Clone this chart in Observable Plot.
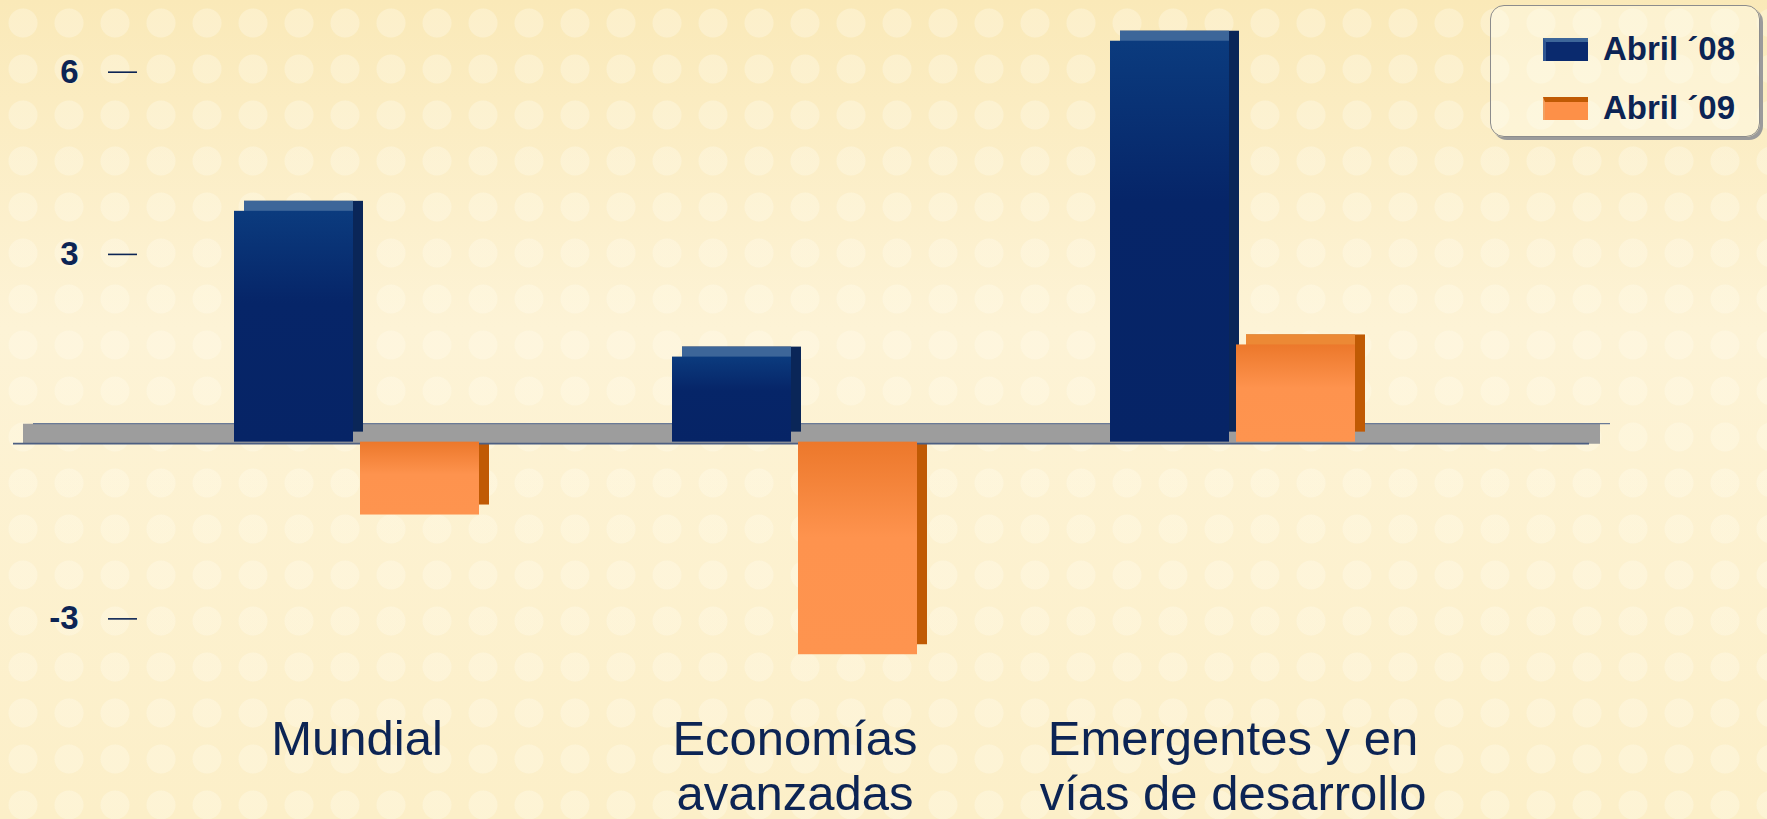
<!DOCTYPE html>
<html>
<head>
<meta charset="utf-8">
<script src="https://cdn.jsdelivr.net/npm/d3@7"></script>
<script src="https://cdn.jsdelivr.net/npm/@observablehq/plot@0.6"></script>
<style>
  html, body { margin: 0; padding: 0; }
  body {
    width: 1767px; height: 819px; overflow: hidden;
    background-color: #fcefc8;
    background-image:
      radial-gradient(circle, rgba(255,251,236,0.35) 0 14px, transparent 15px),
      linear-gradient(180deg, #fae9b8 0%, #fdf3d6 40%, #fcefc8 100%);
    background-size: 46px 46px, 100% 100%;
    font-family: "Liberation Sans", Arial, sans-serif;
  }
  #wrap { position: relative; width: 1767px; height: 819px; }
  #legend {
    position: absolute; left: 1490px; top: 5px; width: 270px; height: 132px;
    box-sizing: border-box;
    border: 1.5px solid #8c8c8c; border-radius: 14px;
    background: rgba(255, 252, 238, 0.45);
    box-shadow: 3px 3px 0 #9b9b9b;
  }
  .item { position: absolute; left: 52px; height: 34px; display: flex; align-items: center; }
  .sw { width: 45px; height: 23px; box-sizing: border-box; margin-right: 15px; }
  .lab { font-weight: bold; font-size: 33px; color: #0c2454; white-space: nowrap; }
</style>
</head>
<body>
<div id="wrap">
  <div id="chart"></div>
  <div id="legend"></div>
</div>
<script>
// ---- data ----
const categories = ["Mundial", "Economías avanzadas", "Emergentes y en vías de desarrollo"];
const categoryLabels = ["Mundial", "Economías\navanzadas", "Emergentes y en\nvías de desarrollo"];
const series = ["Abril ´08", "Abril ´09"];
const abril08 = [3.8, 1.4, 6.6];
const abril09 = [-1.2, -3.5, 1.6];
const yTicks = [6, 3, -3];

// ---- styling ----
const navy = "#0c2454";
const frontFill = { "Abril ´08": "url(#gBlue)", "Abril ´09": "url(#gOrange)" };
const topFill = { "Abril ´08": "#3d6699", "Abril ´09": "#ec8935" };
const sideFill = { "Abril ´08": "#0a2658", "Abril ´09": "#c05a04" };
const halfInset = 126;

const rows = categories.flatMap((c, i) => [
  { cat: c, series: series[0], value: abril08[i] },
  { cat: c, series: series[1], value: abril09[i] }
]);
const pos = rows.filter(d => d.value >= 0);
const neg = rows.filter(d => d.value < 0);

function barsFor(data, fillFn, extra) {
  return series.map(s => Plot.barY(data.filter(d => d.series === s), {
    x: "cat", y: "value",
    insetLeft: s === series[0] ? 0 : halfInset,
    insetRight: s === series[0] ? halfInset : 0,
    fill: fillFn(s),
    ...extra(s)
  }));
}

const defs = () => {
  const ns = "http://www.w3.org/2000/svg";
  const d = document.createElementNS(ns, "defs");
  d.innerHTML = `
    <linearGradient id="gBlue" x1="0" y1="0" x2="0" y2="1">
      <stop offset="0" stop-color="#0b3b7e"/>
      <stop offset="0.4" stop-color="#062568"/>
      <stop offset="1" stop-color="#062466"/>
    </linearGradient>
    <linearGradient id="gOrange" x1="0" y1="0" x2="0" y2="1">
      <stop offset="0" stop-color="#ec782b"/>
      <stop offset="0.45" stop-color="#fe934e"/>
      <stop offset="1" stop-color="#fe944f"/>
    </linearGradient>`;
  return d;
};

const chart = Plot.plot({
  width: 1767,
  height: 819,
  marginLeft: 137,
  marginRight: 167,
  marginTop: 0,
  marginBottom: 67,
  style: { background: "transparent", fontFamily: "'Liberation Sans', Arial, sans-serif", overflow: "visible" },
  x: { type: "band", domain: categories, paddingInner: 0.4396, paddingOuter: 0.3861, align: 0.283, axis: null },
  y: { domain: [-5.2, 7.18], axis: null },
  marks: [
    defs,
    // sides of negative bars (behind the floor)
    ...barsFor(neg, s => sideFill[s], () => ({ dx: 10, dy: -4.5 })),
    // floor
    Plot.ruleY([0], { stroke: "#9d9d9d", strokeWidth: 20, dy: -3, insetLeft: -114, insetRight: 0 }),
    Plot.ruleY([0], { stroke: "#6a7a96", strokeWidth: 1.2, dy: -13, insetLeft: -104, insetRight: -10 }),
    Plot.ruleY([0], { stroke: "#4d5f82", strokeWidth: 1.6, dy: 7, insetLeft: -124, insetRight: 11 }),
    // sides and tops of positive bars
    ...barsFor(pos, s => sideFill[s], () => ({ dx: 10, dy: -4.5 })),
    ...series.map(s => Plot.barY(pos.filter(d => d.series === s), {
      x: "cat", y: "value",
      insetLeft: (s === series[0] ? 0 : halfInset) + 5,
      insetRight: (s === series[0] ? halfInset : 0) + 5,
      fill: topFill[s], dx: 5, dy: -4.5
    })),
    // front faces
    ...barsFor(rows, s => frontFill[s], () => ({ dy: 5.5 })),
    // y axis
    Plot.axisY(yTicks, {
      anchor: "left", tickSize: 29, tickPadding: 30, label: null,
      tickFormat: d => String(d),
      fontSize: 33, fontWeight: "bold", fill: navy, stroke: navy, strokeWidth: 1.6
    }),
    // category labels
    Plot.text(categories, {
      x: d => d, text: (d, i) => categoryLabels[i],
      frameAnchor: "bottom", lineAnchor: "top", dy: -37,
      fontSize: 49, lineHeight: 1.13, fill: navy
    })
  ]
});
document.getElementById("chart").appendChild(chart);

// ---- legend ----
const legend = document.getElementById("legend");
const swStyle = [
  "background:#0a2a6e;border-top:4px solid #3d6699;border-left:3px solid #2f5591;",
  "background:#fd9048;border-top:5px solid #c05a04;border-left:2px solid #f2a060;"
];
series.forEach((s, i) => {
  const it = document.createElement("div");
  it.className = "item";
  it.style.top = (i === 0 ? 26 : 85) + "px";
  it.innerHTML = `<div class="sw" style="${swStyle[i]}"></div><div class="lab">${s}</div>`;
  legend.appendChild(it);
});
</script>
</body>
</html>
